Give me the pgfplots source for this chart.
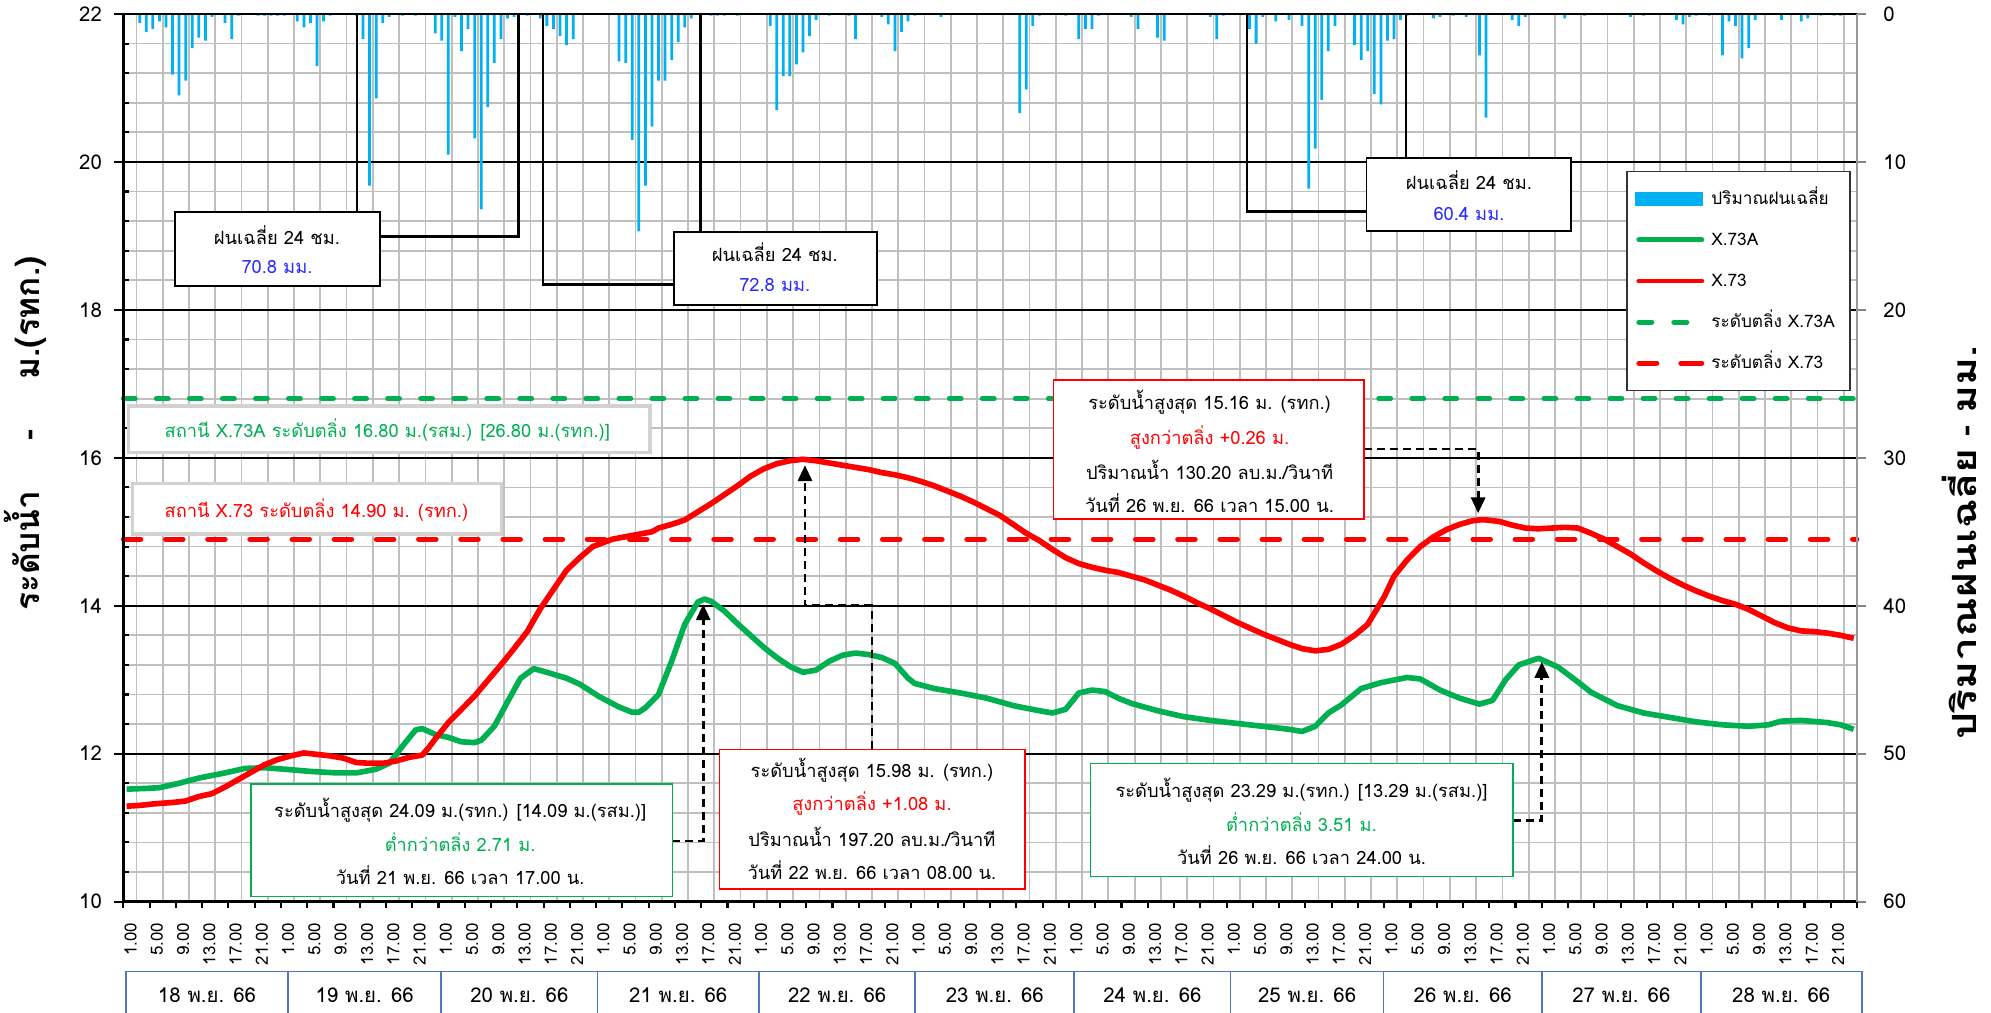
\documentclass[border=0pt]{standalone}
\usepackage{fontspec}
\setmainfont[Script=Thai]{Loma}
\usepackage{pgfplots}
\pgfplotsset{compat=1.18}
\usetikzlibrary{arrows.meta}
\definecolor{rainblue}{HTML}{00B0F0}
\definecolor{xgreen}{HTML}{00B050}
\definecolor{xred}{HTML}{FF0000}
\definecolor{gridgray}{HTML}{BFBFBF}
\definecolor{daybox}{HTML}{4F77BE}
\definecolor{numblue}{HTML}{2A2AFF}
\newcommand\fs[1]{\fontsize{#1}{#1}\selectfont}
\tikzset{ann/.style={black, line width=0.8pt, dash pattern=on 2.3pt off 1.4pt, -{Triangle[length=4.5pt,width=4pt]}}}
\begin{document}
\begin{tikzpicture}
% vertical grid
\begin{axis}[
  at={(0,0)}, anchor=south west, scale only axis, width=17.337cm, height=8.876cm,
  xmin=0.5, xmax=264.5, ymin=0, ymax=1,
  axis line style={draw=none}, tick style={draw=none},
  xtick={2.5,6.5,...,262.5}, xticklabels={}, ytick=\empty,
  xmajorgrids, major grid style={gridgray, line width=0.5pt},
]
\end{axis}
% rain axis
\begin{axis}[
  at={(0,0)}, anchor=south west, scale only axis, width=17.337cm, height=8.876cm,
  xmin=0.5, xmax=264.5, ymin=0, ymax=60, y dir=reverse,
  axis line style={draw=none},
  xtick=\empty,
  ytick={0,10,...,60},
  minor ytick={2,4,6,8,12,14,16,18,22,24,26,28,32,34,36,38,42,44,46,48,52,54,56,58},
  ymajorgrids, yminorgrids,
  major grid style={black, line width=0.55pt},
  minor grid style={gridgray, line width=0.5pt},
  ytick pos=right, yticklabel pos=right,
  tick align=outside, major tick length=0.09cm, minor tick length=0pt,
  y tick style={gridgray!70!black, line width=0.6pt},
  yticklabel style={font=\fs{5.8}, xshift=0.05cm},
  /pgf/number format/assume math mode=true,
]
\addplot[ybar, bar width=0.42, fill=rainblue, draw=none] table {
i r
3 0.6
4 1.2
5 1.0
6 0.5
7 0.9
8 4.1
9 5.5
10 4.5
11 2.3
12 1.6
13 1.8
14 0.2
16 0.6
17 1.7
18 0.1
21 0.1
22 0.1
23 0.1
24 0.1
25 0.1
27 0.5
28 0.9
29 0.6
30 3.5
31 0.5
32 0.1
36 0.1
37 1.7
38 11.6
39 5.7
40 0.6
41 0.2
43 0.1
45 0.1
48 1.3
49 1.8
50 9.5
51 0.2
52 2.5
53 1.0
54 8.4
55 13.2
56 6.3
57 3.3
58 1.7
59 0.3
60 0.2
62 0.1
64 0.3
65 0.8
66 1.0
67 1.5
68 2.1
69 1.7
76 3.2
77 3.3
78 8.5
79 14.7
80 11.6
81 7.6
82 4.5
83 4.5
84 3.1
85 1.9
86 0.9
87 0.3
90 0.1
91 0.1
92 0.1
94 0.1
99 0.8
100 6.5
101 4.2
102 4.2
103 3.4
104 2.6
105 1.5
106 0.4
108 0.1
111 0.1
112 1.7
116 0.2
117 0.7
118 2.5
119 1.2
120 0.5
121 0.1
125 0.2
137 6.7
138 5.1
139 0.8
140 0.1
144 0.1
146 1.7
147 1.0
148 1.0
149 0.1
154 0.2
155 1.0
158 1.6
159 1.8
166 0.2
167 1.7
168 0.1
172 1.0
173 2.0
174 0.2
176 0.5
178 0.4
180 0.8
181 11.8
182 9.1
183 5.8
184 2.5
185 0.8
188 2.1
189 3.1
190 2.5
191 5.4
192 6.1
193 1.8
194 1.7
195 0.4
196 0.1
200 0.3
201 0.2
203 0.1
205 0.2
207 2.8
208 7.0
212 0.4
213 0.8
214 0.2
220 0.3
223 0.1
230 0.2
232 0.1
237 0.4
238 0.7
239 0.2
240 0.1
242 0.1
244 2.8
245 0.5
246 0.8
247 3.0
248 2.3
249 0.4
253 0.4
256 0.5
257 0.3
259 0.1
261 0.1
262 0.1
};
\end{axis}

\begin{axis}[
  at={(0,0)}, anchor=south west, scale only axis, width=17.337cm, height=8.876cm,
  xmin=0.5, xmax=264.5, ymin=10, ymax=22,
  axis line style={draw=none}, clip=false,
  ytick={10,12,...,22}, minor y tick num=4, ytick pos=left,
  xtick={1,5,...,261}, xtick pos=bottom,
  xticklabels={1.00,5.00,9.00,13.00,17.00,21.00,1.00,5.00,9.00,13.00,17.00,21.00,1.00,5.00,9.00,13.00,17.00,21.00,1.00,5.00,9.00,13.00,17.00,21.00,1.00,5.00,9.00,13.00,17.00,21.00,1.00,5.00,9.00,13.00,17.00,21.00,1.00,5.00,9.00,13.00,17.00,21.00,1.00,5.00,9.00,13.00,17.00,21.00,1.00,5.00,9.00,13.00,17.00,21.00,1.00,5.00,9.00,13.00,17.00,21.00,1.00,5.00,9.00,13.00,17.00,21.00},
  x tick style={draw=none},
  extra x ticks={0.5,4.5,...,264.5}, extra x tick labels={},
  extra x tick style={grid=none, x tick style={draw=black, line width=0.6pt}, major tick length=0.06cm},
  tick align=outside, major tick length=0.09cm, minor tick length=0.06cm,
  y tick style={black, line width=0.6pt}, minor y tick style={xshift=0.06cm},
  yticklabel style={font=\fs{5.8}},
  xticklabel style={font=\fs{4.8}, rotate=90, anchor=east, yshift=-0.04cm},
  /pgf/number format/assume math mode=true,
  legend style={at={(0.867,0.8235)}, anchor=north west, draw=black!80, line width=0.4pt,
    fill=white, font=\fs{4.9}, row sep=0.06cm, inner xsep=0.08cm, inner ysep=0.1cm,
    nodes={text height=0.16cm, text depth=0.05cm},
    cells={anchor=west}},
]
\addplot[xgreen, line width=1.4pt, dash pattern=on 3.4pt off 6pt, line cap=round, forget plot] coordinates {(0.5,16.8) (264.5,16.8)};
\addplot[xred, line width=1.4pt, dash pattern=on 5pt off 7pt, line cap=round, forget plot] coordinates {(0.5,14.9) (264.5,14.9)};
\addplot[xgreen, line width=1.6pt, line join=round, forget plot] coordinates {
(1,11.52) (4,11.53) (6,11.54) (9,11.60) (12,11.67) (16,11.74) (19,11.80) (22,11.81) (25,11.79)
(29,11.76) (33,11.74) (36,11.74) (39,11.79) (41,11.87) (43,12.10) (45,12.32) (46,12.34)
(48,12.26) (50,12.22) (52,12.16) (54,12.15) (55,12.18) (57,12.37) (59,12.70) (61,13.02)
(63,13.15) (65,13.10) (68,13.02) (70,12.94) (73,12.77) (76,12.63) (78,12.56) (79,12.56)
(80,12.62) (82,12.80) (84,13.25) (86,13.75) (88,14.05) (89,14.09) (90,14.06) (92,13.93)
(94,13.76) (96,13.60) (98,13.44) (100,13.30) (102,13.18) (104,13.10) (106,13.13) (108,13.25)
(110,13.33) (112,13.36) (114,13.34) (116,13.30) (118,13.22) (120,13.02) (121,12.95) (124,12.88)
(128,12.82) (132,12.75) (136,12.65) (140,12.58) (142,12.55) (144,12.60) (146,12.82) (148,12.86)
(150,12.84) (152,12.75) (154,12.68) (158,12.58) (162,12.50) (166,12.45) (170,12.41) (174,12.37)
(178,12.33) (180,12.30) (182,12.37) (184,12.55) (186,12.66) (189,12.88) (192,12.96) (196,13.03)
(198,13.01) (201,12.86) (204,12.75) (207,12.67) (209,12.72) (211,13.00) (213,13.20) (216,13.29)
(219,13.17) (222,12.97) (224,12.83) (228,12.65) (232,12.55) (236,12.49) (240,12.43) (244,12.39)
(248,12.37) (251,12.39) (253,12.44) (256,12.45) (260,12.42) (262,12.39) (264,12.33)};
\addplot[xred, line width=1.6pt, line join=round, forget plot] coordinates {
(1,11.29) (3,11.30) (5,11.32) (8,11.34) (10,11.36) (12,11.42) (14,11.46) (16,11.55) (18,11.65)
(20,11.75) (22,11.85) (24,11.92) (26,11.97) (28,12.01) (30,11.99) (32,11.97) (34,11.94)
(36,11.88) (38,11.87) (40,11.87) (42,11.90) (44,11.95) (46,11.98) (47,12.08) (48,12.20)
(50,12.42) (52,12.60) (54,12.78) (56,12.99) (58,13.20) (60,13.42) (62,13.65) (64,13.96)
(66,14.22) (67,14.35) (68,14.48) (70,14.65) (72,14.80) (75,14.90) (78,14.95) (81,15.00)
(82,15.05) (84,15.10) (86,15.16) (88,15.27) (90,15.38) (92,15.50) (94,15.62) (96,15.75)
(98,15.85) (100,15.92) (102,15.96) (104,15.98) (106,15.96) (108,15.93) (110,15.90) (112,15.87)
(114,15.84) (116,15.80) (118,15.77) (120,15.73) (122,15.68) (124,15.62) (126,15.55) (128,15.48)
(130,15.40) (132,15.31) (134,15.22) (136,15.10) (138,14.98) (140,14.88) (142,14.76) (144,14.65)
(146,14.57) (148,14.52) (150,14.48) (152,14.45) (154,14.40) (156,14.35) (158,14.28) (160,14.21)
(162,14.13) (164,14.04) (166,13.96) (168,13.87) (170,13.78) (172,13.70) (174,13.62) (176,13.55)
(178,13.48) (180,13.42) (182,13.39) (184,13.41) (186,13.48) (188,13.60) (190,13.75) (192.5,14.12)
(194,14.40) (196,14.62) (198,14.80) (200,14.93) (202,15.03) (204,15.10) (206,15.15) (207,15.16)
(208,15.16) (210,15.14) (212,15.09) (214,15.05) (216,15.04) (218,15.05) (220,15.06) (222,15.05)
(224,14.98) (226,14.90) (228,14.80) (230,14.70) (232,14.58) (234,14.47) (236,14.37) (238,14.28)
(240,14.20) (242,14.13) (244,14.07) (246,14.02) (248,13.95) (250,13.86) (252,13.77) (254,13.70)
(256,13.66) (258,13.65) (260,13.63) (262,13.60) (264,13.56)};
\addlegendimage{legend image code/.code={\fill[rainblue] (0cm,-0.065cm) rectangle (0.66cm,0.065cm);}}
\addlegendentry{ปริมาณฝนเฉลี่ย}
\addlegendimage{legend image code/.code={\draw[xgreen,line width=1.4pt,line cap=round] (0.03cm,0cm) -- (0.66cm,0cm);}}
\addlegendentry{X.73A}
\addlegendimage{legend image code/.code={\draw[xred,line width=1.4pt,line cap=round] (0.03cm,0cm) -- (0.66cm,0cm);}}
\addlegendentry{X.73}
\addlegendimage{legend image code/.code={\draw[xgreen,line width=1.4pt,line cap=round] (0.03cm,0cm) -- (0.16cm,0cm) (0.38cm,0cm) -- (0.51cm,0cm);}}
\addlegendentry{ระดับตลิ่ง  X.73A}
\addlegendimage{legend image code/.code={\draw[xred,line width=1.4pt,line cap=round] (0.03cm,0cm) -- (0.21cm,0cm) (0.45cm,0cm) -- (0.66cm,0cm);}}
\addlegendentry{ระดับตลิ่ง  X.73}
\end{axis}

% frame
\draw[black, line width=0.7pt] (0,0) -- (0,8.876) -- (17.337,8.876);
\draw[black, line width=0.7pt] (0,0) -- (17.337,0);
\draw[gridgray!80!black, line width=0.6pt] (17.337,0) -- (17.337,8.876);

% axis titles
\node[rotate=90, font=\bfseries\fs{9.5}] at (-0.98,4.68) {ระดับน้ำ\hspace{0.5cm}-\hspace{0.5cm}ม.(รทก.)};
\node[rotate=90, font=\bfseries\fs{9.5}] at (18.36,3.59) {\scalebox{1.28}[1]{ปริมาณฝนเฉลี่ย}\hspace{0.12cm}-\hspace{0.12cm}\scalebox{1.28}[1]{มม.}};

\begin{scope}[x=0.0656705cm, y=0.739667cm, xshift=-0.0328352cm, yshift=-7.39667cm]
% station labels
\draw[gray!35, line width=1pt, fill=white] (1.3,16.70) rectangle (80.7,16.07);
\node[text=xgreen, font=\fs{5.2}] at (40.7,16.37) {สถานี X.73A ระดับตลิ่ง 16.80 ม.(รสม.) [26.80 ม.(รทก.)]};
\draw[gray!35, line width=1pt, fill=white] (1.9,15.65) rectangle (58.1,14.97);
\node[text=xred, font=\fs{5.2}] at (29.9,15.29) {สถานี X.73 ระดับตลิ่ง 14.90 ม. (รทก.)};
% rain brackets and boxes
\draw[black, line width=0.7pt] (36.1,22) -- (36.1,18.99) -- (60.7,18.99) -- (60.7,22);
\draw[black, line width=0.55pt, fill=white] (8.4,19.32) rectangle (39.6,18.32);
\node[font=\fs{5.2}] at (23.9,19.01) {ฝนเฉลี่ย 24 ชม.};
\node[font=\fs{5.2}, text=numblue] at (23.9,18.58) {70.8 มม.};
\draw[black, line width=0.7pt] (64.4,22) -- (64.4,18.34) -- (88.4,18.34) -- (88.4,22);
\draw[black, line width=0.55pt, fill=white] (84.3,19.05) rectangle (115.2,18.07);
\node[font=\fs{5.2}] at (99.7,18.78) {ฝนเฉลี่ย 24 ชม.};
\node[font=\fs{5.2}, text=numblue] at (99.7,18.33) {72.8 มม.};
\draw[black, line width=0.7pt] (171.6,22) -- (171.6,19.33) -- (195.8,19.33) -- (195.8,22);
\draw[black, line width=0.55pt, fill=white] (189.8,20.05) rectangle (221,19.06);
\node[font=\fs{5.2}] at (205.4,19.76) {ฝนเฉลี่ย 24 ชม.};
\node[font=\fs{5.2}, text=numblue] at (205.4,19.30) {60.4 มม.};
% peak annotations
\draw[ann] (84.1,10.82) -- (88.8,10.82) -- (88.8,14.02);
\draw[xgreen, line width=0.4pt, fill=white] (19.95,11.59) rectangle (84.1,10.07);
\node[font=\fs{5.2}] at (51.8,11.24) {ระดับน้ำสูงสุด 24.09 ม.(รทก.) [14.09 ม.(รสม.)]};
\node[font=\fs{5.2}, text=xgreen] at (51.8,10.80) {ต่ำกว่าตลิ่ง 2.71 ม.};
\node[font=\fs{5.2}] at (51.8,10.36) {วันที่ 21 พ.ย. 66 เวลา 17.00 น.};

\draw[ann] (114.5,12.06) -- (114.5,14.0) -- (104.3,14.0) -- (104.3,15.90);
\draw[xred, line width=0.4pt, fill=white] (91.3,12.06) rectangle (137.8,10.17);
\node[font=\fs{5.2}] at (114.5,11.77) {ระดับน้ำสูงสุด 15.98 ม. (รทก.)};
\node[font=\fs{5.2}, text=xred] at (114.5,11.32) {สูงกว่าตลิ่ง +1.08 ม.};
\node[font=\fs{5.2}] at (114.5,10.88) {ปริมาณน้ำ 197.20 ลบ.ม./วินาที};
\node[font=\fs{5.2}] at (114.5,10.43) {วันที่ 22 พ.ย. 66 เวลา 08.00 น.};

\draw[ann] (189.4,16.12) -- (206.8,16.12) -- (206.8,15.25);
\draw[xred, line width=0.4pt, fill=white] (142.1,17.05) rectangle (189.4,15.17);
\node[font=\fs{5.2}] at (165.9,16.75) {ระดับน้ำสูงสุด 15.16 ม. (รทก.)};
\node[font=\fs{5.2}, text=xred] at (165.9,16.28) {สูงกว่าตลิ่ง +0.26 ม.};
\node[font=\fs{5.2}] at (165.9,15.84) {ปริมาณน้ำ 130.20 ลบ.ม./วินาที};
\node[font=\fs{5.2}] at (165.9,15.39) {วันที่ 26 พ.ย. 66 เวลา 15.00 น.};

\draw[ann] (212.1,11.10) -- (216.5,11.10) -- (216.5,13.24);
\draw[xgreen, line width=0.4pt, fill=white] (147.8,11.87) rectangle (212.1,10.34);
\node[font=\fs{5.2}] at (179.9,11.51) {ระดับน้ำสูงสุด 23.29 ม.(รทก.) [13.29 ม.(รสม.)]};
\node[font=\fs{5.2}, text=xgreen] at (179.9,11.07) {ต่ำกว่าตลิ่ง 3.51 ม.};
\node[font=\fs{5.2}] at (179.9,10.63) {วันที่ 26 พ.ย. 66 เวลา 24.00 น.};

% date boxes
\foreach \a/\b/\dd in {0.9/25.6/18, 25.6/48.9/19, 48.9/72.7/20, 72.7/97.3/21, 97.3/121.1/22, 121.1/145.3/23, 145.3/169.1/24, 169.1/192.4/25, 192.4/216.5/26, 216.5/240.7/27, 240.7/265.2/28}{
  \draw[daybox, line width=0.5pt] (\a,8.3) -- (\a,9.056) -- (\b,9.056) -- (\b,8.3);
  \node[font=\fs{5.8}] at ({(\a+\b)/2},8.74) {\dd\ พ.ย. 66};
}
\end{scope}
\pgfresetboundingbox
\useasboundingbox (-1.233,-1.114) rectangle (18.677,9.016);
\end{tikzpicture}
\end{document}
